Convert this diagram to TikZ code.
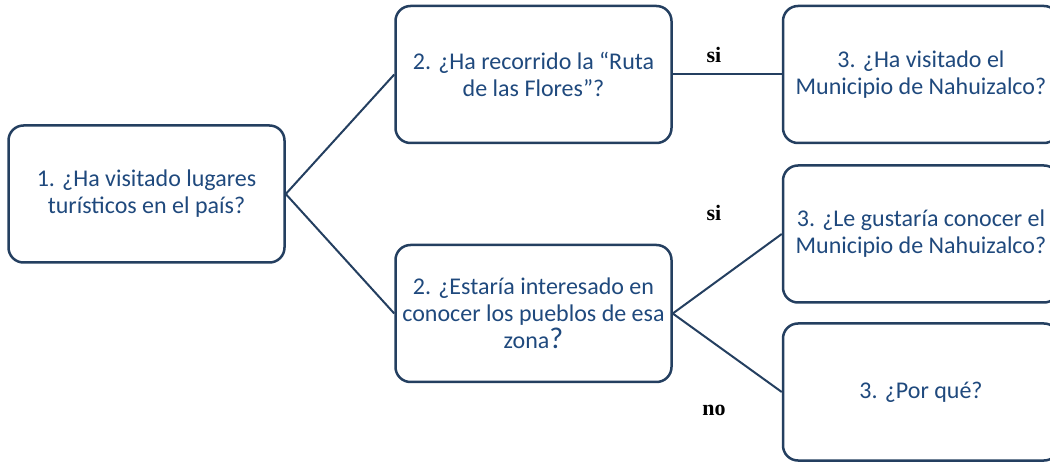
\documentclass[tikz,border=0pt]{standalone}
\usepackage{fontspec}
\setmainfont{Carlito}
\newfontfamily\labelfont{Liberation Serif}
\usetikzlibrary{positioning}
\definecolor{boxline}{HTML}{243F60}
\definecolor{boxtext}{HTML}{1F497D}

\begin{document}
\begin{tikzpicture}[
				x=1pt, y=-1pt,
				Q/.style = {rectangle, draw=boxline, rounded corners=15pt,% question boxes
					line width=2.5pt, minimum width=276pt, minimum height=137pt,
					text=boxtext, align=center, inner sep=2pt,
					font=\fontsize{24}{27}\selectfont},
				L/.style = {font=\labelfont\bfseries\fontsize{22}{22}\selectfont},% si / no
				C/.style = {draw=boxline, line width=2pt},
				]
				\useasboundingbox (0,0) rectangle (1050,462);
				% questions
				\node[Q] (q1)  at (146.5,194)  {1. ¿Ha visitado lugares\\turísticos en el país?};
				\node[Q] (q2a) at (533.5,74.5) {2. ¿Ha recorrido la “Ruta\\de las Flores”?};
				\node[Q] (q2b) at (533.5,313.5) {2. ¿Estaría interesado en\\conocer los pueblos de esa\\zona{\fontsize{30}{27}\selectfont ?}};
				\node[Q] (q3a) at (921,74.5)   {3. ¿Ha visitado el\\Municipio de Nahuizalco?};
				\node[Q] (q3b) at (921,234)    {3. ¿Le gustaría conocer el\\Municipio de Nahuizalco?};
				\node[Q] (q3c) at (921,392)    {3. ¿Por qué?};
				% connectors
				\draw[C] (q1.east) -- (q2a.west);
				\draw[C] (q1.east) -- (q2b.west);
				\draw[C] (q2a.east) -- (q3a.west);
				\draw[C] (q2b.east) -- (q3b.west);
				\draw[C] (q2b.east) -- (q3c.west);
				% answers
				\node[L] (si1) at (714,55)  {si};
				\node[L] (si2) at (714,213) {si};
				\node[L] (no1) at (714,410) {no};
			\end{tikzpicture}
\end{document}
